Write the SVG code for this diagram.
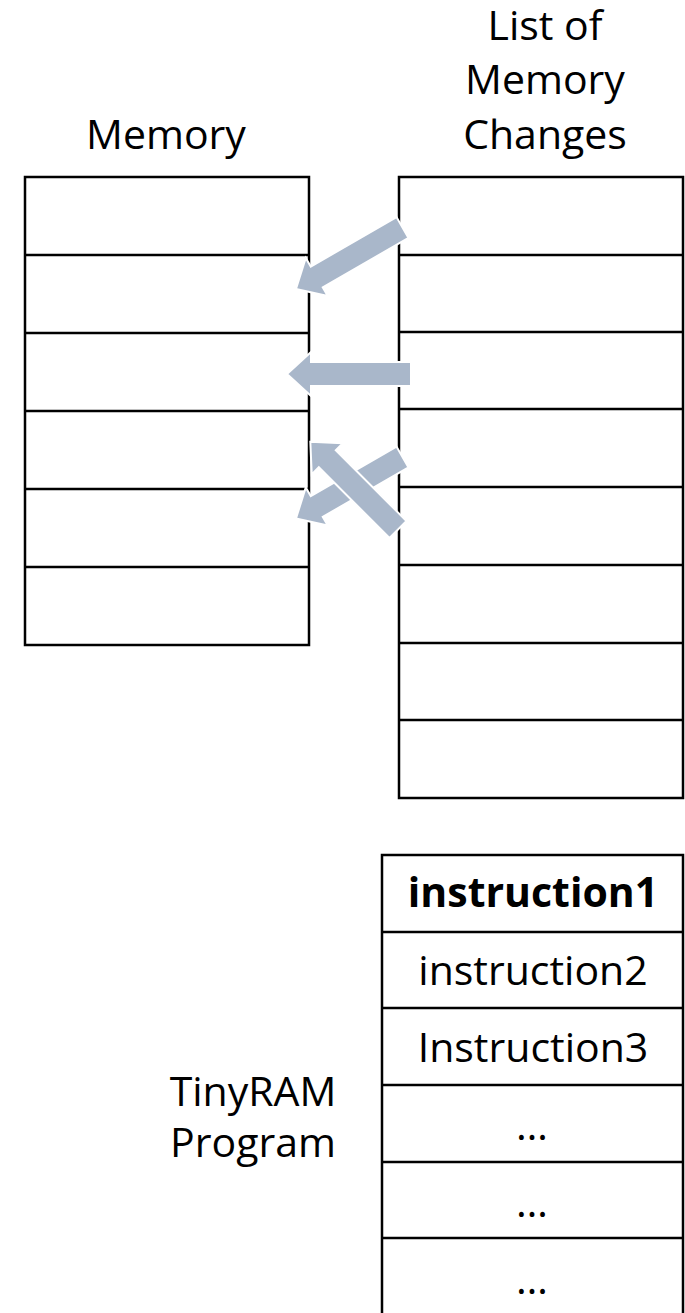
<svg xmlns="http://www.w3.org/2000/svg" width="685" height="1313" viewBox="0 0 685 1313">
<style>
.lbl{font-family:"Open Sans","Liberation Sans",sans-serif;font-size:41px;fill:#000;text-anchor:middle}
.b{font-weight:bold}
.tbl{fill:#fff;stroke:#000;stroke-width:2.5}
.ln{stroke:#000;stroke-width:2.5}
.arr{fill:#A9B7CA;stroke:#fff;stroke-width:2;stroke-linejoin:miter}
</style>
<rect width="685" height="1313" fill="#fff"/>
<g id="labels">
<text class="lbl" x="166" y="149">Memory</text>
<text class="lbl" x="545" y="40">List of</text>
<text class="lbl" x="545" y="94">Memory</text>
<text class="lbl" x="545" y="149">Changes</text>
<text class="lbl" x="253" y="1106">TinyRAM</text>
<text class="lbl" x="253" y="1157">Program</text>
</g>
<g id="memory">
<rect class="tbl" x="25" y="177" width="284" height="468"/>
<line class="ln" x1="25" y1="255" x2="309" y2="255"/>
<line class="ln" x1="25" y1="333" x2="309" y2="333"/>
<line class="ln" x1="25" y1="411" x2="309" y2="411"/>
<line class="ln" x1="25" y1="489" x2="309" y2="489"/>
<line class="ln" x1="25" y1="567" x2="309" y2="567"/>
</g>
<g id="changes">
<rect class="tbl" x="399" y="177" width="284" height="621"/>
<line class="ln" x1="399" y1="255" x2="683" y2="255"/>
<line class="ln" x1="399" y1="332" x2="683" y2="332"/>
<line class="ln" x1="399" y1="409" x2="683" y2="409"/>
<line class="ln" x1="399" y1="487" x2="683" y2="487"/>
<line class="ln" x1="399" y1="565" x2="683" y2="565"/>
<line class="ln" x1="399" y1="643" x2="683" y2="643"/>
<line class="ln" x1="399" y1="720" x2="683" y2="720"/>
</g>
<g id="program">
<rect class="tbl" x="382" y="855" width="301" height="462"/>
<line class="ln" x1="382" y1="932" x2="683" y2="932"/>
<line class="ln" x1="382" y1="1008" x2="683" y2="1008"/>
<line class="ln" x1="382" y1="1085" x2="683" y2="1085"/>
<line class="ln" x1="382" y1="1162" x2="683" y2="1162"/>
<line class="ln" x1="382" y1="1238" x2="683" y2="1238"/>
<text class="lbl b" x="533" y="907">instruction1</text>
<text class="lbl" x="533" y="985">instruction2</text>
<text class="lbl" x="533" y="1062">Instruction3</text>
<text class="lbl" x="532" y="1140">…</text>
<text class="lbl" x="532" y="1217">…</text>
<text class="lbl" x="532" y="1294">…</text>
</g>
<g id="connectors">
<polygon class="arr" transform="translate(402.5,227.5) rotate(150)" points="0,-12 99,-12 99,-22 123,0 99,22 99,12 0,12"/>
<polygon class="arr" transform="translate(411,374) rotate(180)" points="0,-12 100,-12 100,-22 124,0 100,22 100,12 0,12"/>
<polygon class="arr" transform="translate(402.5,457) rotate(150)" points="0,-12 99,-12 99,-22 123,0 99,22 99,12 0,12"/>
<polygon class="arr" transform="translate(398,529.5) rotate(225)" points="0,-12 100,-12 100,-22 124,0 100,22 100,12 0,12"/>
</g>
</svg>
